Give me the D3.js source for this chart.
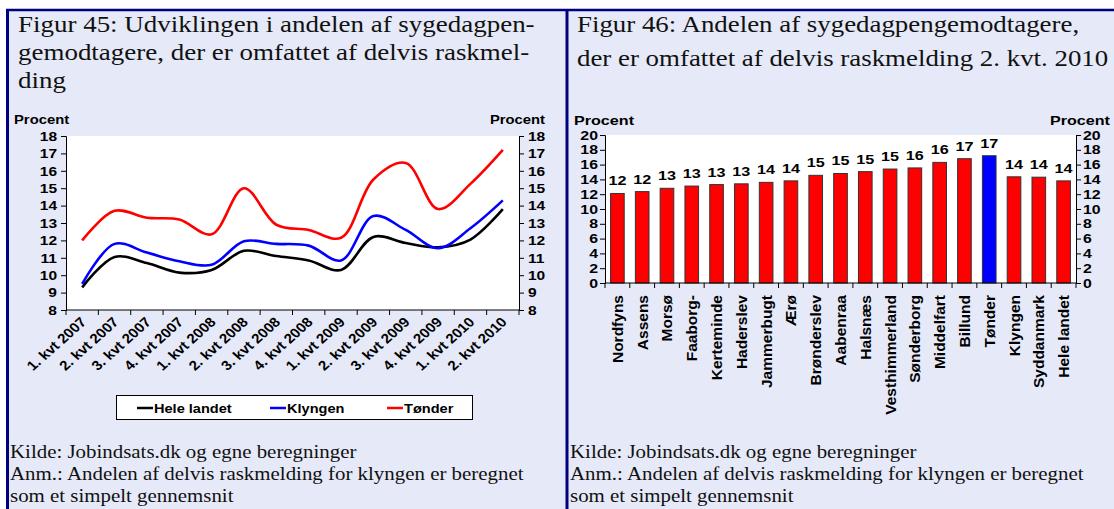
<!DOCTYPE html>
<html>
<head>
<meta charset="utf-8">
<script src="https://cdn.jsdelivr.net/npm/d3@7"></script>
<style>
  html, body { margin: 0; padding: 0; background: #ffffff; }
  svg { display: block; }
  .ttl { font-family: "Liberation Serif", "Times New Roman", serif; font-size: 24px; fill: #111; }
  .note { font-family: "Liberation Serif", "Times New Roman", serif; font-size: 19px; fill: #111; }
  .ax { font-family: "Liberation Sans", Arial, sans-serif; font-weight: bold; fill: #000; }
</style>
</head>
<body>
<svg id="fig" width="1114" height="509"></svg>
<script>
// Figur 45: quarterly share of sick-pay recipients with partial return to work
const quarters = ["1. kvt 2007","2. kvt 2007","3. kvt 2007","4. kvt 2007",
                  "1. kvt 2008","2. kvt 2008","3. kvt 2008","4. kvt 2008",
                  "1. kvt 2009","2. kvt 2009","3. kvt 2009","4. kvt 2009",
                  "1. kvt 2010","2. kvt 2010"];
const heleLandet = [9.3, 11.05, 10.7, 10.15, 10.3, 11.4, 11.1, 10.85, 10.3, 12.2, 11.85, 11.6, 12.05, 13.8];
const klyngen    = [9.5, 11.8, 11.3, 10.8, 10.6, 11.95, 11.8, 11.7, 10.85, 13.4, 12.6, 11.55, 12.7, 14.3];
const toender    = [12.0, 13.7, 13.3, 13.2, 12.35, 15.0, 12.9, 12.6, 12.15, 15.5, 16.45, 13.8, 15.25, 17.2];
const lineTicks  = [8, 9, 10, 11, 12, 13, 14, 15, 16, 17, 18];

// Figur 46: municipalities, 2. kvt. 2010
const kommuner = ["Nordfyns","Assens","Morsø","Faaborg-","Kerteminde","Haderslev","Jammerbugt","Ærø",
                  "Brønderslev","Aabenraa","Halsnæs","Vesthimmerland","Sønderborg","Middelfart",
                  "Billund","Tønder","Klyngen","Syddanmark","Hele landet"];
const andel = [12.1, 12.35, 12.8, 13.1, 13.3, 13.4, 13.6, 13.8, 14.55, 14.8, 15.05, 15.4, 15.55,
               16.3, 16.8, 17.2, 14.35, 14.3, 13.8];
const barTicks = [0, 2, 4, 6, 8, 10, 12, 14, 16, 18, 20];

const svg = d3.select("#fig");
const border = "#00007f";
const panelBg = "#e6e9f8";

// the page typography is slightly wide: stretch text horizontally
function stext(parent, x, y, str, cls, size, sx, anchor, rot) {
  const g = parent.append("g")
    .attr("transform", `translate(${x},${y}) scale(${sx},1)` + (rot ? ` rotate(${rot})` : ""));
  const t = g.append("text").attr("class", cls).attr("text-anchor", anchor || "start").text(str);
  if (size) t.style("font-size", size + "px");
  return t;
}
function stretchAxis(g, size, sx) {
  g.selectAll("text").attr("class", "ax").style("font-size", size + "px")
    .attr("x", function () { return +this.getAttribute("x") / sx; })
    .attr("transform", `scale(${sx},1)`);
  g.selectAll("line, path").attr("stroke", "#000");
}

// panels and frame
svg.append("rect").attr("x", 8).attr("y", 10).attr("width", 1106).attr("height", 499).attr("fill", panelBg);
svg.append("line").attr("x1", 6).attr("x2", 1114).attr("y1", 10).attr("y2", 10)
  .attr("stroke", border).attr("stroke-width", 2.5);
svg.append("line").attr("x1", 7.5).attr("x2", 7.5).attr("y1", 9).attr("y2", 509)
  .attr("stroke", border).attr("stroke-width", 3);
svg.append("line").attr("x1", 567).attr("x2", 567).attr("y1", 9).attr("y2", 509)
  .attr("stroke", border).attr("stroke-width", 3);

function textLines(x, ys, lines, cls, sx) {
  lines.forEach((t, i) => stext(svg, x, ys[i], t, cls, null, sx));
}

// ---------- left panel: line chart ----------
textLines(18, [32, 60, 88], ["Figur 45: Udviklingen i andelen af sygedagpen-",
                             "gemodtagere, der er omfattet af delvis raskmel-",
                             "ding"], "ttl", 1.124);

const L = { left: 66, right: 519, top: 136, bottom: 310 };
const xq = d3.scaleBand().domain(quarters).range([L.left, L.right]).padding(0);
const yl = d3.scaleLinear().domain([8, 18]).range([L.bottom, L.top]);

svg.append("rect").attr("x", L.left).attr("y", L.top)
  .attr("width", L.right - L.left).attr("height", L.bottom - L.top).attr("fill", "#ffffff");

const gLeftAx = svg.append("g").attr("transform", `translate(${L.left},0)`)
  .call(d3.axisLeft(yl).tickValues(lineTicks).tickSize(5).tickPadding(4));
const gRightAx = svg.append("g").attr("transform", `translate(${L.right},0)`)
  .call(d3.axisRight(yl).tickValues(lineTicks).tickSize(5).tickPadding(4));
stretchAxis(gLeftAx, 13.5, 1.15);
stretchAxis(gRightAx, 13.5, 1.15);

// bottom axis with ticks on band edges
const gBot = svg.append("g").attr("transform", `translate(0,${L.bottom})`);
gBot.append("line").attr("x1", L.left).attr("x2", L.right).attr("stroke", "#000");
const edges = quarters.map(q => xq(q)).concat([L.right]);
gBot.selectAll("line.tk").data(edges).join("line").attr("class", "tk")
  .attr("x1", d => d).attr("x2", d => d).attr("y1", 0).attr("y2", 5).attr("stroke", "#000");
quarters.forEach(q => {
  stext(gBot, xq(q) + xq.bandwidth() / 2 + 5, 13, q, "ax", 13.5, 1.12, "end", -45);
});

const lineGen = d3.line()
  .x((d, i) => xq(quarters[i]) + xq.bandwidth() / 2)
  .y(d => yl(d))
  .curve(d3.curveCatmullRom.alpha(0.5));

const series = [
  { name: "Hele landet", values: heleLandet, color: "#000000" },
  { name: "Klyngen", values: klyngen, color: "#0000ff" },
  { name: "Tønder", values: toender, color: "#ff0000" }
];
series.forEach(s => {
  svg.append("path").attr("d", lineGen(s.values)).attr("fill", "none")
    .attr("stroke", s.color).attr("stroke-width", 2.6);
});

stext(svg, 14, 124, "Procent", "ax", 13, 1.14);
stext(svg, 545, 124, "Procent", "ax", 13, 1.14, "end");

// legend
const lg = svg.append("g");
lg.append("rect").attr("x", 116.5).attr("y", 395.5).attr("width", 356).attr("height", 24)
  .attr("fill", "#fff").attr("stroke", "#000");
const legX = [137, 270, 387];
series.forEach((s, i) => {
  lg.append("line").attr("x1", legX[i]).attr("x2", legX[i] + 16).attr("y1", 408).attr("y2", 408)
    .attr("stroke", s.color).attr("stroke-width", 2.5);
  stext(lg, legX[i] + 17, 412.5, s.name, "ax", 13, 1.12);
});

textLines(10, [458, 480, 502], ["Kilde: Jobindsats.dk og egne beregninger",
                                "Anm.: Andelen af delvis raskmelding for klyngen er beregnet",
                                "som et simpelt gennemsnit"], "note", 1.1);

// ---------- right panel: bar chart ----------
textLines(577, [32, 66], ["Figur 46: Andelen af sygedagpengemodtagere,",
                          "der er omfattet af delvis raskmelding 2. kvt. 2010"], "ttl", 1.12);

const R = { left: 605, right: 1076, top: 135, bottom: 283 };
const xk = d3.scaleBand().domain(kommuner).range([R.left, R.right]).paddingInner(0.45).paddingOuter(0.225);
const yb = d3.scaleLinear().domain([0, 20]).range([R.bottom, R.top]);

svg.append("rect").attr("x", R.left).attr("y", R.top)
  .attr("width", R.right - R.left).attr("height", R.bottom - R.top).attr("fill", "#ffffff");

const gBL = svg.append("g").attr("transform", `translate(${R.left},0)`)
  .call(d3.axisLeft(yb).tickValues(barTicks).tickSize(5).tickPadding(2));
const gBR = svg.append("g").attr("transform", `translate(${R.right},0)`)
  .call(d3.axisRight(yb).tickValues(barTicks).tickSize(5).tickPadding(2));
stretchAxis(gBL, 13, 1.22);
stretchAxis(gBR, 13, 1.22);

svg.append("g").selectAll("rect").data(kommuner).join("rect")
  .attr("x", d => xk(d)).attr("width", xk.bandwidth())
  .attr("y", (d, i) => yb(andel[i])).attr("height", (d, i) => yb(0) - yb(andel[i]))
  .attr("fill", d => d === "Tønder" ? "#0000ff" : "#ff0000")
  .attr("stroke", "#333").attr("stroke-width", 1);

const gVal = svg.append("g");
kommuner.forEach((k, i) => {
  stext(gVal, xk(k) + xk.bandwidth() / 2, yb(andel[i]) - 8, d3.format(".0f")(andel[i]),
        "ax", 13.5, 1.2, "middle");
});

// category axis with ticks between bars
const gBB = svg.append("g").attr("transform", `translate(0,${R.bottom})`);
gBB.append("line").attr("x1", R.left).attr("x2", R.right).attr("stroke", "#000");
gBB.selectAll("line.tk").data(d3.range(kommuner.length + 1)).join("line").attr("class", "tk")
  .attr("x1", i => R.left + i * (R.right - R.left) / kommuner.length)
  .attr("x2", i => R.left + i * (R.right - R.left) / kommuner.length)
  .attr("y1", 0).attr("y2", 5).attr("stroke", "#000");
kommuner.forEach(k => {
  stext(gBB, xk(k) + xk.bandwidth() / 2 + 5.5, 12, k, "ax", 15.5, 1, "end", -90);
});

stext(svg, 574, 125, "Procent", "ax", 12.8, 1.26);
stext(svg, 1110, 125, "Procent", "ax", 12.8, 1.26, "end");

textLines(570, [458, 480, 502], ["Kilde: Jobindsats.dk og egne beregninger",
                                 "Anm.: Andelen af delvis raskmelding for klyngen er beregnet",
                                 "som et simpelt gennemsnit"], "note", 1.1);
</script>
</body>
</html>
